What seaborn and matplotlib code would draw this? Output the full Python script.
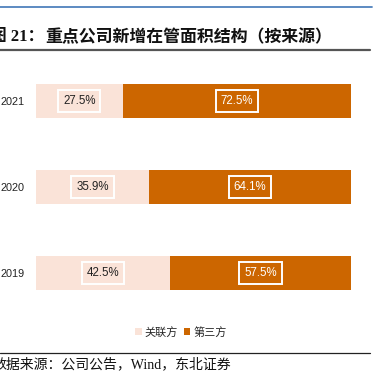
import matplotlib
matplotlib.use('Agg')
import matplotlib.pyplot as plt
import seaborn as sns
import pandas as pd
from matplotlib.patches import Patch
from matplotlib.lines import Line2D

# ---- data ----
years = ['2021', '2020', '2019']
related = [27.5, 35.9, 42.5]
third = [72.5, 64.1, 57.5]
series_names = ['关联方', '第三方']
title_prefix = '图 21：'
title_main = '重点公司新增在管面积结构（按来源）'
source_text = '数据来源：公司公告，Wind，东北证券'

sns.set_theme(style='white')
plt.rcParams['font.family'] = ['Liberation Sans', 'Noto Sans CJK SC', 'DejaVu Sans']

df = pd.DataFrame({'year': years, 'related': related, 'third': third})
df['total'] = df['related'] + df['third']

W, H = 376, 388
fig = plt.figure(figsize=(W / 100, H / 100), dpi=100)
ax = fig.add_axes([36 / W, 1 - 316 / H, 315 / W, 258 / H])

light = '#FAE3D8'
dark = '#CC6600'
bw = 34 / 86
sns.barplot(data=df, x='total', y='year', order=years, orient='h', color=dark,
            width=bw, ax=ax, saturation=1, errorbar=None, linewidth=0)
sns.barplot(data=df, x='related', y='year', order=years, orient='h', color=light,
            width=bw, ax=ax, saturation=1, errorbar=None, linewidth=0)

box = dict(boxstyle='square,pad=0.42', facecolor='none', edgecolor='white', linewidth=1.4)
for i, (r, t) in enumerate(zip(related, third)):
    ax.text(r / 2, i, f'{r:.1f}%', ha='center', va='center', fontsize=8.3,
            color='#222222', bbox=box, family=['Liberation Sans'])
    ax.text(r + t / 2, i, f'{t:.1f}%', ha='center', va='center', fontsize=8.3,
            color='white', bbox=box, family=['Liberation Sans'])

ax.set_xlim(0, 100)
ax.set_ylim(2.5, -0.5)
ax.set_xlabel('')
ax.set_ylabel('')
ax.set_xticks([])
for s in ax.spines.values():
    s.set_visible(False)
ax.tick_params(axis='y', length=0, pad=8, labelsize=7.8, labelcolor='#222222')

# legend
handles = [Patch(facecolor=light, edgecolor='none'), Patch(facecolor=dark, edgecolor='none')]
fig.legend(handles, series_names, loc='center', bbox_to_anchor=(181 / W, 1 - 332 / H),
           ncol=2, frameon=False, handlelength=0.6, handleheight=0.6,
           handletextpad=0.25, columnspacing=0.5,
           prop={'family': ['Noto Sans CJK SC'], 'size': 8})

# page decorations
fig.add_artist(Line2D([0, 372 / W], [1 - 7 / H] * 2, color='#4F81BD', lw=1.3,
                      transform=fig.transFigure))
fig.add_artist(Line2D([0, 370 / W], [1 - 50 / H] * 2, color='#555555', lw=1.6,
                      transform=fig.transFigure))
fig.add_artist(Line2D([0, 370 / W], [1 - 353 / H] * 2, color='#222222', lw=0.9,
                      transform=fig.transFigure))

fig.text(44 / W, 1 - 37 / H, title_prefix, ha='right', va='center', fontsize=12,
         fontweight='bold', color='#111111', family=['Liberation Serif', 'Noto Sans CJK SC'])
fig.text(45 / W, 1 - 37 / H, title_main, ha='left', va='center', fontsize=12.2,
         fontweight='bold', color='#111111', family=['Noto Sans CJK SC', 'DejaVu Sans'])
fig.text(-8 / W, 1 - 364 / H, source_text, ha='left', va='center', fontsize=10,
         color='#111111', family=['Liberation Serif', 'Noto Sans CJK SC'])

fig.savefig('out.png', dpi=100)
